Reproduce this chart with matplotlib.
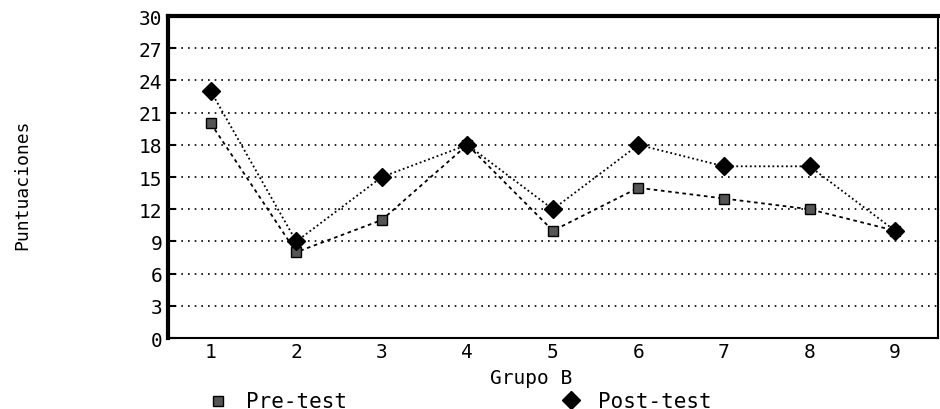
import matplotlib
matplotlib.use("Agg")
import matplotlib.pyplot as plt

grupos = [1, 2, 3, 4, 5, 6, 7, 8, 9]
pre_test = [20, 8, 11, 18, 10, 14, 13, 12, 10]
post_test = [23, 9, 15, 18, 12, 18, 16, 16, 10]
yticks = [0, 3, 6, 9, 12, 15, 18, 21, 24, 27, 30]

plt.rcParams['font.family'] = ['DejaVu Sans Mono']

fig = plt.figure(figsize=(9.4, 4.1), dpi=100)
ax = fig.add_axes([0.1787, 0.173, 0.819, 0.7855])

for y in yticks[1:-1]:
    ax.axhline(y, color='black', linestyle=(0, (1, 3)), linewidth=1.2, zorder=1)

ax.plot(grupos, pre_test, color='black', linestyle=(0, (2, 2)), linewidth=1.3,
        marker='s', markersize=7, markerfacecolor='#555555', markeredgecolor='black', zorder=3)
ax.plot(grupos, post_test, color='black', linestyle=(0, (1, 1.5)), linewidth=1.3,
        marker='D', markersize=9, markerfacecolor='black', markeredgecolor='black', zorder=3)

ax.set_xlim(0.5, 9.5)
ax.set_ylim(0, 30)
ax.set_yticks(yticks)
ax.set_xticks(grupos)
ax.tick_params(axis='y', direction='in', length=6, width=1.5, labelsize=14, pad=4)
ax.tick_params(axis='x', length=0, labelsize=14, pad=3)
for s in ['left', 'top']:
    ax.spines[s].set_linewidth(3)
ax.spines['bottom'].set_linewidth(1.5)
ax.spines['right'].set_linewidth(1.5)

fig.text(0.565, 0.078, 'Grupo B', fontsize=14, ha='center', va='center')
fig.text(0.024, 0.55, 'Puntuaciones', rotation=90, ha='center', va='center', fontsize=13)

# legend
fig.lines.append(plt.Line2D([0.232], [0.02], marker='s', markersize=7, color='black',
                            markerfacecolor='#555555', transform=fig.transFigure))
fig.text(0.262, 0.02, 'Pre-test', fontsize=15, va='center')
fig.lines.append(plt.Line2D([0.607], [0.022], marker='D', markersize=9, color='black',
                            transform=fig.transFigure))
fig.text(0.636, 0.02, 'Post-test', fontsize=15, va='center')

fig.savefig('out.png', dpi=100)
